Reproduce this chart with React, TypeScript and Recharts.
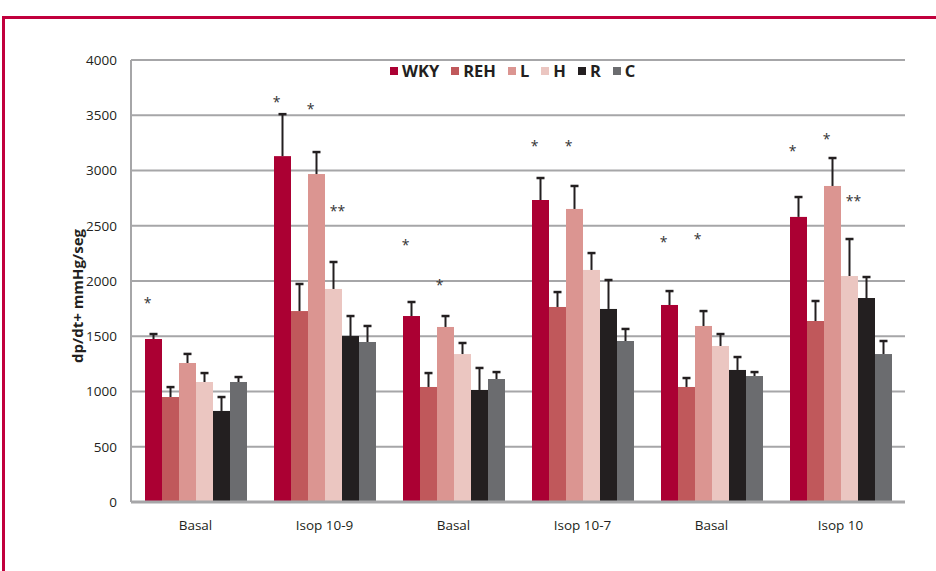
import { BarChart, Bar, XAxis, YAxis, CartesianGrid } from 'recharts'

const categories = ['Basal', 'Isop 10-9', 'Basal', 'Isop 10-7', 'Basal', 'Isop 10']

const wky = [1475, 3130, 1683, 2733, 1783, 2580]
const wkyErr = [45, 380, 127, 199, 126, 180]
const reh = [950, 1728, 1041, 1765, 1041, 1638]
const rehErr = [90, 245, 126, 135, 81, 181]
const l = [1258, 2968, 1584, 2652, 1593, 2860]
const lErr = [82, 199, 99, 208, 135, 253]
const h = [1086, 1928, 1339, 2100, 1412, 2045]
const hErr = [81, 244, 100, 153, 108, 335]
const r = [824, 1502, 1014, 1747, 1195, 1846]
const rErr = [126, 181, 199, 262, 117, 190]
const c = [1086, 1448, 1113, 1457, 1140, 1339]
const cErr = [45, 145, 63, 109, 36, 118]

// significance marks and the value level they sit at
const wkyStar = ['*', '*', '*', '*', '*', '*']
const wkyStarAt = [1819, 3638, 2344, 3240, 2371, 3195]
const lStar = ['', '*', '*', '*', '*', '*']
const lStarAt = [0, 3575, 1982, 3240, 2398, 3303]
const hStar = ['', '**', '', '', '', '**']
const hStarAt = [0, 2652, 0, 0, 0, 2742]

const yTicks = [0, 500, 1000, 1500, 2000, 2500, 3000, 3500, 4000]

const series = [
  { key: 'WKY', values: wky, err: wkyErr, star: wkyStar, starAt: wkyStarAt, color: '#ab0033' },
  { key: 'REH', values: reh, err: rehErr, star: null, starAt: null, color: '#c0585b' },
  { key: 'L', values: l, err: lErr, star: lStar, starAt: lStarAt, color: '#db9591' },
  { key: 'H', values: h, err: hErr, star: hStar, starAt: hStarAt, color: '#ebc6c1' },
  { key: 'R', values: r, err: rErr, star: null, starAt: null, color: '#231f20' },
  { key: 'C', values: c, err: cErr, star: null, starAt: null, color: '#6b6c6f' },
]

const data = categories.map((name, i) => {
  const row: any = { name }
  series.forEach((s) => {
    row[s.key] = s.values[i]
    row[s.key + 'Err'] = s.err[i]
    row[s.key + 'Star'] = s.star ? s.star[i] : ''
    row[s.key + 'StarAt'] = s.starAt ? s.starAt[i] : 0
  })
  return row
})

const FONT = '"Open Sans", "DejaVu Sans", sans-serif'

// bar + upper error whisker + significance asterisk, all from the bar's own geometry
const makeShape = (key: string) => (props: any) => {
  const { x, y, width, height, fill, payload } = props
  const v = payload[key]
  const bottom = y + height
  const k = v ? height / v : 0
  const errTop = bottom - (v + payload[key + 'Err']) * k
  const cx = x + width / 2
  const star = payload[key + 'Star']
  const starY = bottom - payload[key + 'StarAt'] * k
  const starDx = star === '**' ? 4 : -6
  return (
    <g>
      <rect x={x} y={y} width={width} height={height} fill={fill} />
      <line x1={cx} x2={cx} y1={y} y2={errTop} stroke="#231f20" strokeWidth={2} />
      <line x1={cx - 4} x2={cx + 4} y1={errTop} y2={errTop} stroke="#231f20" strokeWidth={2.5} />
      {star && (
        <text x={cx + starDx} y={starY + 7} textAnchor="middle" fontSize={14} fill="#333"
          fontFamily={FONT}>{star}</text>
      )}
    </g>
  )
}

const ChartLegend = () => (
  <div style={{ position: 'absolute', left: 390, top: 60, display: 'flex', alignItems: 'center',
    fontFamily: FONT, fontWeight: 700, fontSize: 16.5, color: '#231f20', lineHeight: '22px' }}>
    {series.map((s) => (
      <div key={s.key} style={{ display: 'flex', alignItems: 'center', marginRight: 12 }}>
        <span style={{ width: 8, height: 8, background: s.color, marginRight: 4, display: 'inline-block' }} />
        <span>{s.key}</span>
      </div>
    ))}
  </div>
)

const App = () => {
  return (
    <div style={{ position: 'absolute', left: 0, top: 0, width: 936, height: 571, background: '#fff',
      overflow: 'hidden' }}>
      <div style={{ position: 'absolute', left: 2, top: 16, right: -10, bottom: -10,
        borderTop: '3px solid #c1003d', borderLeft: '3px solid #c1003d' }} />
      <BarChart width={936} height={571} data={data} barSize={17} barGap={0}
        margin={{ top: 60, right: 31, left: 61, bottom: 39 }}>
        <CartesianGrid vertical={false} stroke="#a6a6a8" strokeWidth={2} />
        <XAxis dataKey="name" axisLine={{ stroke: '#a6a6a8', strokeWidth: 3 }} tickLine={false}
          tickMargin={12} height={30}
          tick={{ fill: '#231f20', fontSize: 13.5, fontFamily: FONT }} />
        <YAxis domain={[0, 4000]} ticks={yTicks} width={70} axisLine={{ stroke: '#a6a6a8', strokeWidth: 2 }}
          tickLine={false} tickMargin={8}
          tick={{ fill: '#231f20', fontSize: 13.5, fontFamily: FONT }}
          label={{
            content: () => (
              <text x={83} y={296} transform="rotate(-90 83 296)" textAnchor="middle"
                fontFamily={FONT} fontWeight={700} fontSize={15} fill="#231f20">
                dp/dt+ mmHg/seg
              </text>
            ),
          }} />
        {series.map((s) => (
          <Bar key={s.key} dataKey={s.key} fill={s.color} isAnimationActive={false}
            shape={makeShape(s.key)} />
        ))}
      </BarChart>
      <ChartLegend />
    </div>
  )
}

export default App
